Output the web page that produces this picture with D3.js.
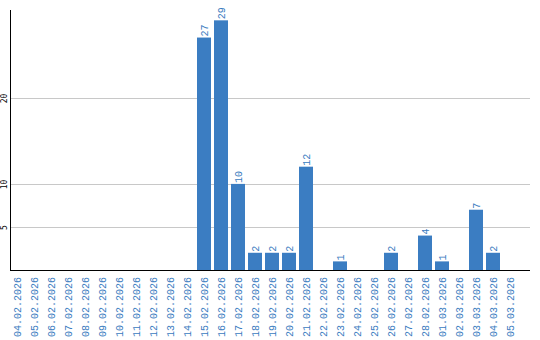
<!DOCTYPE html>
<html>
<head>
<meta charset="utf-8">
<script src="https://cdn.jsdelivr.net/npm/d3@7"></script>
<style>
  body { margin: 0; background: #fff; }
  .grid { stroke: #c8c8c8; stroke-width: 1; }
  .axis { stroke: #000; stroke-width: 1; }
  .ylab { font-family: "DejaVu Sans Mono", monospace; font-size: 8px; fill: #000; }
  .xlab, .val { font-family: "Liberation Mono", monospace; font-size: 10px; fill: #3a7bc0; }
</style>
</head>
<body>
<script>
//categories and values
var dates = ["04.02.2026", "05.02.2026", "06.02.2026", "07.02.2026", "08.02.2026", "09.02.2026",
    "10.02.2026", "11.02.2026", "12.02.2026", "13.02.2026", "14.02.2026", "15.02.2026",
    "16.02.2026", "17.02.2026", "18.02.2026", "19.02.2026", "20.02.2026", "21.02.2026",
    "22.02.2026", "23.02.2026", "24.02.2026", "25.02.2026", "26.02.2026", "27.02.2026",
    "28.02.2026", "01.03.2026", "02.03.2026", "03.03.2026", "04.03.2026", "05.03.2026"];
var counts = [0, 0, 0, 0, 0, 0, 0, 0, 0, 0, 0, 27, 29, 10, 2, 2, 2, 12, 0, 1, 0, 0, 2, 0, 4, 1, 0, 7, 2, 0];
var yTicks = [5, 10, 20];

var width = 540, height = 340;
var svg = d3.select("body").append("svg")
    .attr("width", width)
    .attr("height", height);

//scales
var x = d3.scaleBand()
    .domain(dates)
    .range([8.5, 518.5])
    .paddingInner(3 / 17)
    .paddingOuter(1.5 / 17);

var y = d3.scaleLinear()
    .domain([0, 30.2])
    .range([270, 10]);

//gridlines
svg.selectAll(".grid")
    .data(yTicks)
    .enter()
    .append("line")
    .attr("class", "grid")
    .attr("x1", 11)
    .attr("x2", 530)
    .attr("y1", function(d){ return Math.round(y(d)) + 0.5; })
    .attr("y2", function(d){ return Math.round(y(d)) + 0.5; });

//y tick labels, rotated
svg.selectAll(".ylab")
    .data(yTicks)
    .enter()
    .append("text")
    .attr("class", "ylab")
    .attr("text-anchor", "middle")
    .attr("transform", function(d){
        return "translate(7," + (Math.round(y(d)) + 0.5) + ") rotate(-90)";
    })
    .text(function(d){ return d; });

//bars
var data = dates.map(function(d, i){ return { date: d, value: counts[i] }; });

svg.selectAll(".bar")
    .data(data.filter(function(d){ return d.value > 0; }))
    .enter()
    .append("rect")
    .attr("class", "bar")
    .attr("x", function(d){ return x(d.date); })
    .attr("width", x.bandwidth())
    .attr("y", function(d){ return y(d.value); })
    .attr("height", function(d){ return y(0) - y(d.value); })
    .style("fill", "#3b7dc2");

//value labels above bars
svg.selectAll(".val")
    .data(data.filter(function(d){ return d.value > 0; }))
    .enter()
    .append("text")
    .attr("class", "val")
    .attr("text-anchor", "start")
    .attr("transform", function(d){
        return "translate(" + (x(d.date) + x.bandwidth() / 2 + 3.5) + "," + (y(d.value) - 1) + ") rotate(-90)";
    })
    .text(function(d){ return d.value; });

//axes lines
svg.append("line")
    .attr("class", "axis")
    .attr("x1", 10.5).attr("x2", 10.5)
    .attr("y1", 10).attr("y2", 270.5);
svg.append("line")
    .attr("class", "axis")
    .attr("x1", 10).attr("x2", 530)
    .attr("y1", 270.5).attr("y2", 270.5);

//x labels, rotated
svg.selectAll(".xlab")
    .data(dates)
    .enter()
    .append("text")
    .attr("class", "xlab")
    .attr("text-anchor", "end")
    .attr("transform", function(d){
        return "translate(" + (x(d) + x.bandwidth() / 2 + 3.5) + ",277) rotate(-90)";
    })
    .text(function(d){ return d; });
</script>
</body>
</html>
